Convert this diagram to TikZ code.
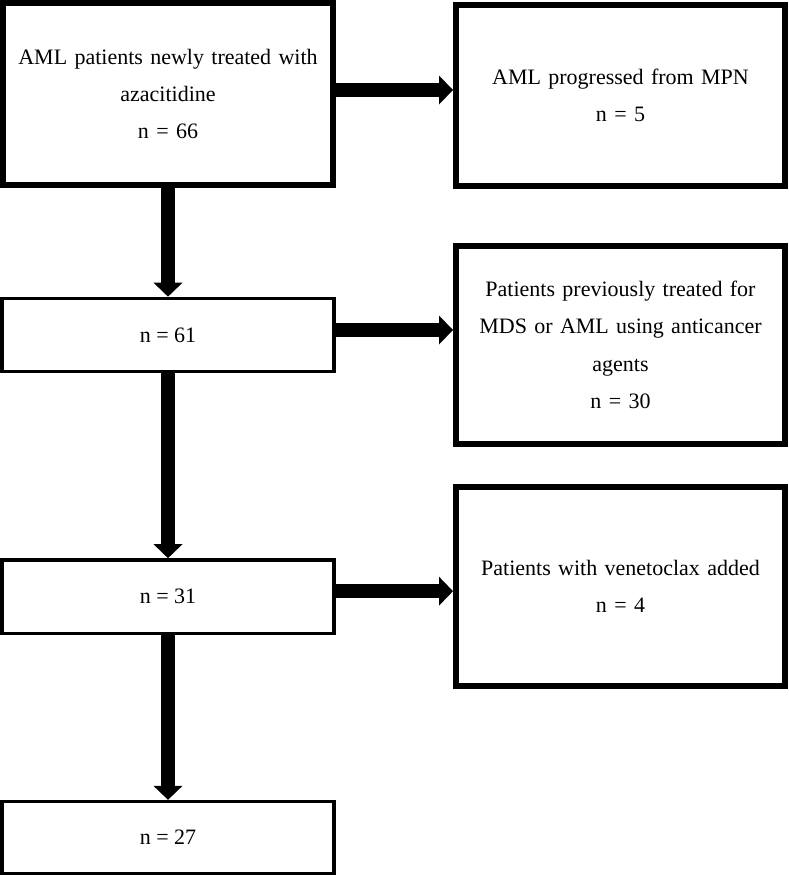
\documentclass[tikz,border=0pt]{standalone}
\usepackage{fontspec}
\setmainfont{Liberation Serif}
\usetikzlibrary{arrows.meta}

\begin{document}
\begin{tikzpicture}[x=0.75pt, y=-0.75pt]
        \tikzstyle{countbox} = [rectangle, minimum width=249pt, minimum height=55pt, text centered, draw=black, line width=2.5pt, fill=white, font=\fontsize{16.5}{28}\selectfont];
        \tikzstyle{exclbox} = [rectangle, minimum width=246.75pt, text width=232pt, align=center, draw=black, line width=4.5pt, fill=white, font=\fontsize{16.5}{28}\selectfont];
        \tikzstyle{arrow} = [line width=10.5pt, -{Triangle[width=21.75pt, length=10.5pt, line width=0pt]}];

        \useasboundingbox (0,0) rectangle (789,876);

        % main column
        \node(start) [exclbox, minimum width=247.5pt, minimum height=136.5pt] at (168,94) {AML patients newly treated with\\azacitidine\\n = 66};
        \node(n61) [countbox] at (168,335) {n = 61};
        \node(n31) [countbox] at (168,596.5) {n = 31};
        \node(n27) [countbox, minimum height=54pt] at (168,837.5) {n = 27};

        % excluded
        \node(mpn) [exclbox, minimum height=135.75pt] at (620.5,95.5) {AML progressed from MPN\\n = 5};
        \node(prev) [exclbox, minimum height=148.5pt] at (620.5,345) {Patients previously treated for\\MDS or AML using anticancer\\agents\\n = 30};
        \node(veneto) [exclbox, minimum height=149.25pt] at (620.5,586.5) {Patients with venetoclax added\\n = 4};

        \draw[arrow] (start) -- (n61);
        \draw[arrow] (n61) -- (n31);
        \draw[arrow] (n31) -- (n27);

        \draw[arrow] ([yshift=3pt]start.east) -- ([yshift=3pt]start.east -| mpn.west);
        \draw[arrow] ([yshift=3.75pt]n61.east) -- ([yshift=3.75pt]n61.east -| prev.west);
        \draw[arrow] ([yshift=4pt]n31.east) -- ([yshift=4pt]n31.east -| veneto.west);

\end{tikzpicture}
\end{document}
